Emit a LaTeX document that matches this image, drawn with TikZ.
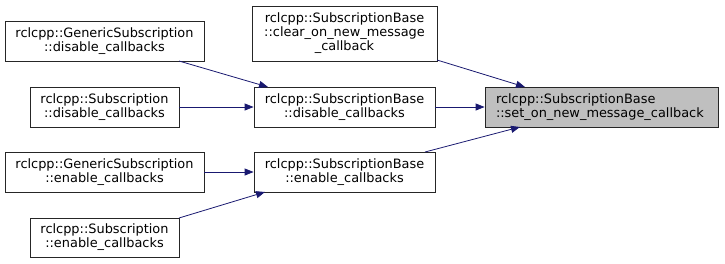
\documentclass[tikz,border=0pt]{standalone}
\usepackage{fontspec}
\setmainfont{DejaVu Sans}
\usetikzlibrary{arrows.meta}
\definecolor{edgeblue}{HTML}{191970}
\definecolor{boxgray}{HTML}{BFBFBF}
\newcommand{\usc}{\char95\relax}
\tikzset{
  fn/.style={draw=black!85, line width=0.8pt, inner sep=0pt, align=center,
    font=\fontsize{12.9}{14}\selectfont},
  call/.style={edgeblue, line width=0.8pt, -{Triangle[length=9pt,width=7pt]}}
}
\begin{document}
\begin{tikzpicture}[x=1pt,y=-1pt]
\useasboundingbox (0,0) rectangle (725,263);
\node[fn, minimum width=199pt, minimum height=40pt] (gd) at (104.5,41) {rclcpp::GenericSubscription\\::disable\usc callbacks};
\node[fn, minimum width=149pt, minimum height=40pt] (sd) at (104.5,107) {rclcpp::Subscription\\::disable\usc callbacks};
\node[fn, minimum width=199pt, minimum height=40pt] (ge) at (104.5,172) {rclcpp::GenericSubscription\\::enable\usc callbacks};
\node[fn, minimum width=149pt, minimum height=39pt] (se) at (104.5,237.5) {rclcpp::Subscription\\::enable\usc callbacks};
\node[fn, minimum width=185pt, minimum height=55pt] (bc) at (344.5,33.5) {rclcpp::SubscriptionBase\\::clear\usc on\usc new\usc message\\\usc callback};
\node[fn, minimum width=181pt, minimum height=40pt] (bd) at (344.5,107) {rclcpp::SubscriptionBase\\::disable\usc callbacks};
\node[fn, minimum width=181pt, minimum height=40pt] (be) at (344.5,172) {rclcpp::SubscriptionBase\\::enable\usc callbacks};
\node[fn, fill=boxgray, minimum width=233pt, minimum height=40pt, text width=211pt, align=left] (t) at (601.5,107) {rclcpp::SubscriptionBase\\::set\usc on\usc new\usc message\usc callback};
\coordinate (gdo) at (179,61);
\coordinate (bdi) at (268,87);
\coordinate (sdo) at (179,107);
\coordinate (geo) at (204,172);
\coordinate (seo) at (179,218);
\coordinate (bei) at (265,192);
\coordinate (bco) at (437,60);
\coordinate (ti1) at (525,87);
\coordinate (beo) at (425,152);
\coordinate (ti3) at (520,127);
\draw[call] (gdo) -- (bdi);
\draw[call] (sdo) -- (bd.west);
\draw[call] (geo) -- (be.west);
\draw[call] (seo) -- (bei);
\draw[call] (bco) -- (ti1);
\draw[call] (bd.east) -- (t.west);
\draw[call] (beo) -- (ti3);
\end{tikzpicture}
\end{document}
